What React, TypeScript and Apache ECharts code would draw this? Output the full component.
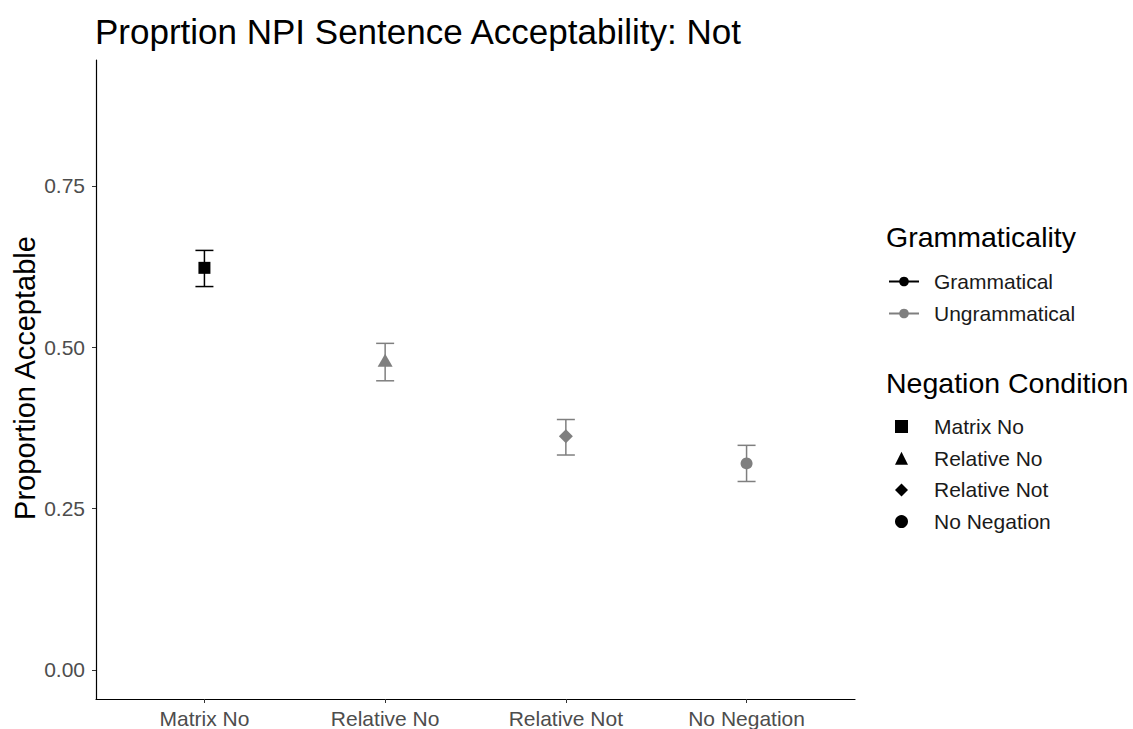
import React, { useEffect, useRef } from "react";
import * as echarts from "echarts";

const categories = ["Matrix No", "Relative No", "Relative Not", "No Negation"];
const means = [0.623, 0.48, 0.362, 0.32];
const lower = [0.594, 0.448, 0.333, 0.292];
const upper = [0.65, 0.506, 0.388, 0.348];
const grammaticality = ["Grammatical", "Ungrammatical", "Ungrammatical", "Ungrammatical"];
const shapes = ["rect", "triangle", "diamond", "circle"];
const shapeSizes: any[] = [12, [15, 13], 14, 12];
const yTicks = [0, 0.25, 0.5, 0.75];
const grammLevels = ["Grammatical", "Ungrammatical"];
const grammColors = ["#000000", "#7f7f7f"];

const FONT = "'Liberation Sans', Arial, sans-serif";

export default function App() {
  const ref = useRef<HTMLDivElement>(null);
  useEffect(() => {
    if (!ref.current) return;
    const chart = echarts.init(ref.current, undefined, { renderer: "svg" });
    const colorOf = (g: string) => grammColors[grammLevels.indexOf(g)];

    const pointData = categories.map((c, i) => ({
      value: [i + 1, means[i]],
      symbol: shapes[i],
      symbolSize: shapeSizes[i],
      itemStyle: { color: colorOf(grammaticality[i]), opacity: 1 },
    }));
    const errData = categories.map((c, i) => ({
      value: [i + 1, lower[i], upper[i]],
      itemStyle: { color: colorOf(grammaticality[i]) },
    }));

    const option: any = {
      animation: false,
      textStyle: { fontFamily: FONT },
      title: {
        text: "Proprtion NPI Sentence Acceptability: Not",
        left: 90,
        top: 9,
        textStyle: { fontSize: 35, fontWeight: "normal", color: "#000", fontFamily: FONT },
      },
      grid: {
        left: 96,
        top: 60,
        width: 759,
        height: 639,
        containLabel: false,
        outerBoundsMode: "none",
      },
      xAxis: {
        type: "value",
        min: 0.4,
        max: 4.6,
        splitLine: { show: false },
        axisLine: { onZero: false, lineStyle: { color: "#000", width: 1.2 } },
        axisTick: { show: true, length: 4, customValues: [1, 2, 3, 4], lineStyle: { color: "#333" } },
        axisLabel: {
          customValues: [1, 2, 3, 4],
          formatter: (v: number) => categories[Math.round(v) - 1] ?? "",
          color: "#4d4d4d",
          fontSize: 21,
          margin: 9,
          fontFamily: FONT,
        },
      },
      yAxis: {
        type: "value",
        min: -0.045,
        max: 0.945,
        splitLine: { show: false },
        axisLine: { show: true, onZero: false, lineStyle: { color: "#000", width: 1.2 } },
        axisTick: { show: true, length: 4, customValues: yTicks, lineStyle: { color: "#333" } },
        axisLabel: {
          customValues: yTicks,
          formatter: (v: number) => v.toFixed(2),
          color: "#4d4d4d",
          fontSize: 21,
          margin: 11,
          fontFamily: FONT,
        },
      },
      legend: [
        {
          orient: "vertical",
          left: 883,
          top: 266,
          itemWidth: 30,
          itemHeight: 12,
          itemGap: 11,
          data: grammLevels,
          textStyle: { fontSize: 21, color: "#1a1a1a", padding: [0, 0, 0, 10], fontFamily: FONT },
          selectedMode: false,
        },
        {
          orient: "vertical",
          left: 890,
          top: 411,
          itemWidth: 13,
          itemHeight: 13,
          itemGap: 10.7,
          data: categories.map((c) => "leg_" + c),
          formatter: (n: string) => n.replace("leg_", ""),
          textStyle: { fontSize: 21, color: "#1a1a1a", padding: [0, 0, 0, 21], fontFamily: FONT },
          selectedMode: false,
        },
      ],
      graphic: [
        {
          type: "text",
          x: 25,
          y: 378,
          rotation: Math.PI / 2,
          style: {
            text: "Proportion Acceptable",
            fontSize: 29,
            fill: "#000",
            fontFamily: FONT,
            textAlign: "center",
            textVerticalAlign: "middle",
          },
        },
        {
          type: "text",
          left: 886,
          top: 222,
          style: { text: "Grammaticality", fontSize: 28.5, fill: "#000", fontFamily: FONT },
        },
        {
          type: "text",
          left: 886,
          top: 368,
          style: { text: "Negation Condition", fontSize: 28.5, fill: "#000", fontFamily: FONT },
        },
      ],
      series: [
        {
          type: "custom",
          name: "errorbars",
          data: errData,
          renderItem: (params: any, api: any) => {
            const x = api.value(0);
            const lo = api.coord([x, api.value(1)]);
            const hi = api.coord([x, api.value(2)]);
            const col = api.visual("color");
            const hw = 9;
            const st = { stroke: col, lineWidth: 1.5 };
            return {
              type: "group",
              children: [
                { type: "line", shape: { x1: lo[0], y1: lo[1], x2: hi[0], y2: hi[1] }, style: st },
                { type: "line", shape: { x1: lo[0] - hw, y1: lo[1], x2: lo[0] + hw, y2: lo[1] }, style: st },
                { type: "line", shape: { x1: hi[0] - hw, y1: hi[1], x2: hi[0] + hw, y2: hi[1] }, style: st },
              ],
            };
          },
          z: 2,
        },
        {
          type: "scatter",
          name: "points",
          data: pointData,
          z: 3,
        },
        ...grammLevels.map((g, i) => ({
          type: "line",
          name: g,
          data: [],
          symbol: "circle",
          symbolSize: 10,
          itemStyle: { color: grammColors[i], opacity: 1 },
          lineStyle: { color: grammColors[i], width: 1.5 },
        })),
        ...categories.map((c, i) => ({
          type: "scatter",
          name: "leg_" + c,
          data: [],
          symbol: shapes[i],
          itemStyle: { color: "#000", opacity: 1 },
        })),
      ],
    };
    chart.setOption(option);
    return () => chart.dispose();
  }, []);
  return (
    <div
      ref={ref}
      style={{ position: "absolute", left: 0, top: 0, width: 1133, height: 729, background: "#fff" }}
    />
  );
}
